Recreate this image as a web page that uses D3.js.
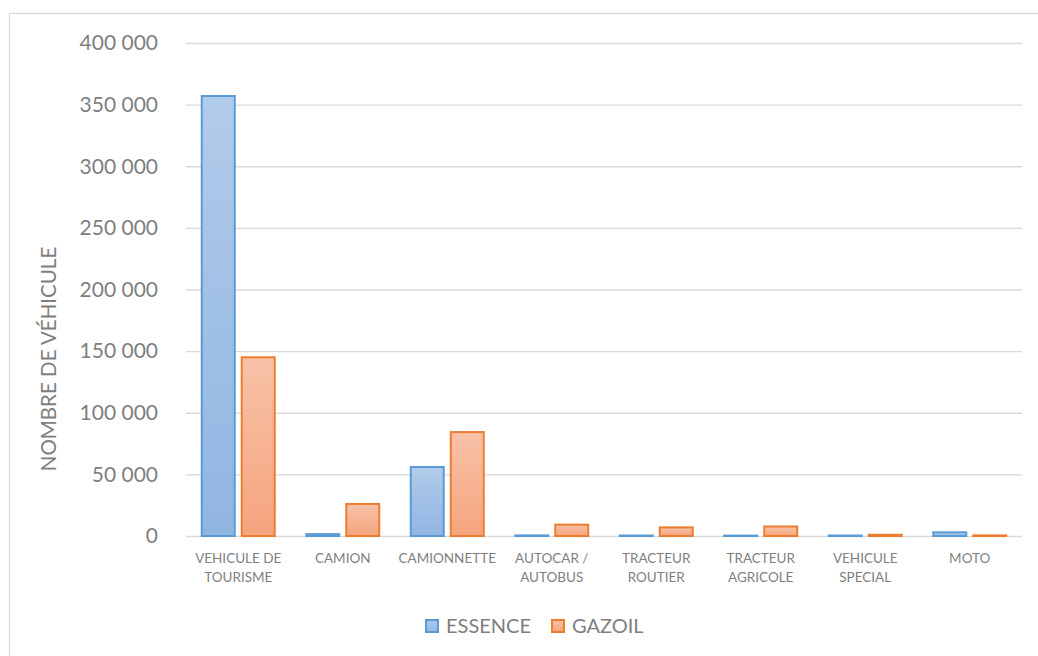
<!DOCTYPE html>
<html>
<head>
<meta charset="utf-8">
<script src="https://cdn.jsdelivr.net/npm/d3@7"></script>
<style>
  body { margin: 0; background: #fff; }
  svg { font-family: Lato, "Open Sans", sans-serif; }
  .grid line { stroke: #d9d9d9; stroke-width: 1.3; }
  .grid path { display: none; }
</style>
</head>
<body>
<div class="svg-container"></div>
<script>
var categories = [
    ["VEHICULE DE", "TOURISME"],
    ["CAMION"],
    ["CAMIONNETTE"],
    ["AUTOCAR /", "AUTOBUS"],
    ["TRACTEUR", "ROUTIER"],
    ["TRACTEUR", "AGRICOLE"],
    ["VEHICULE", "SPECIAL"],
    ["MOTO"]
];
var essence = [357000, 1500, 56000, 500, 400, 300, 400, 3000];
var gazoil = [145000, 26000, 84300, 9200, 7000, 7700, 1000, 500];
var seriesNames = ["ESSENCE", "GAZOIL"];
var yTicks = [0, 50000, 100000, 150000, 200000, 250000, 300000, 350000, 400000];
var yTitle = "NOMBRE DE VÉHICULE";

var width = 1038, height = 656;
var svg = d3.select(".svg-container")
    .append("svg")
    .attr("width", width)
    .attr("height", height);

var margin = { top: 43, right: 16, bottom: 120, left: 186 };
var chartWidth = width - margin.left - margin.right;
var chartHeight = height - margin.top - margin.bottom;

// chart frame
svg.append("rect")
    .attr("x", 9.5).attr("y", 13.5)
    .attr("width", 1040).attr("height", 660)
    .attr("fill", "none").attr("stroke", "#d9d9d9").attr("stroke-width", 1.3);

var defs = svg.append("defs");
function grad(id, top, bottom) {
    var lg = defs.append("linearGradient").attr("id", id)
        .attr("x1", 0).attr("y1", 0).attr("x2", 0).attr("y2", 1);
    lg.append("stop").attr("offset", "0%").attr("stop-color", top);
    lg.append("stop").attr("offset", "100%").attr("stop-color", bottom);
}
grad("gradBlue", "#b1cbea", "#91b5e2");
grad("gradOrange", "#f8c2a8", "#f5a47d");

var colors = [
    { fill: "url(#gradBlue)", stroke: "#5b9bd5" },
    { fill: "url(#gradOrange)", stroke: "#ed7d31" }
];

var g = svg.append("g")
    .attr("transform", `translate(${margin.left}, ${margin.top})`);

var xScale = d3.scaleBand()
    .domain(d3.range(categories.length))
    .range([0, chartWidth])
    .paddingInner(0)
    .paddingOuter(0);

var yScale = d3.scaleLinear()
    .domain([0, 400000])
    .range([chartHeight, 0]);

var fmt = d => d3.format(",")(d).replace(/,/g, " ");

var yGridlines = d3.axisLeft(yScale).tickValues(yTicks).tickSize(-chartWidth).tickFormat("");
g.append("g").attr("class", "grid").call(yGridlines);

// y tick labels
g.selectAll(".ylab").data(yTicks).enter().append("text")
    .attr("class", "ylab")
    .attr("x", -28)
    .attr("y", d => yScale(d))
    .attr("dy", "0.35em")
    .attr("text-anchor", "end")
    .attr("fill", "#7f7f7f")
    .style("font-size", "21px")
    .text(fmt);

var bw = 33, gap = 7;
var series = [essence, gazoil];
series.forEach(function(vals, si) {
    g.selectAll(".bar" + si).data(vals).enter().append("rect")
        .attr("class", "bar" + si)
        .attr("x", (d, i) => xScale(i) + xScale.bandwidth() / 2 + (si === 0 ? -gap / 2 - bw : gap / 2))
        .attr("y", d => yScale(d))
        .attr("width", bw)
        .attr("height", d => chartHeight - yScale(d))
        .attr("fill", colors[si].fill)
        .attr("stroke", colors[si].stroke)
        .attr("stroke-width", 2);
});

// category labels
var cat = g.selectAll(".cat").data(categories).enter().append("text")
    .attr("class", "cat")
    .attr("x", (d, i) => xScale(i) + xScale.bandwidth() / 2)
    .attr("y", chartHeight + 27)
    .attr("text-anchor", "middle")
    .attr("fill", "#7f7f7f")
    .style("font-size", "13.5px");
cat.selectAll("tspan").data(d => d).enter().append("tspan")
    .attr("x", function() { return this.parentNode.getAttribute("x"); })
    .attr("dy", (d, i) => i === 0 ? 0 : 19)
    .text(d => d);

// y title
svg.append("text")
    .attr("transform", "translate(56, 359) rotate(-90)")
    .attr("text-anchor", "middle")
    .attr("fill", "#7f7f7f")
    .style("font-size", "20.5px")
    .text(yTitle);

// legend
var legend = svg.append("g").attr("transform", "translate(426, 626)");
var lx = [0, 126];
seriesNames.forEach(function(name, i) {
    legend.append("rect")
        .attr("x", lx[i]).attr("y", -6)
        .attr("width", 12).attr("height", 12)
        .attr("fill", colors[i].fill)
        .attr("stroke", colors[i].stroke)
        .attr("stroke-width", 2);
    legend.append("text")
        .attr("x", lx[i] + 20).attr("y", 0)
        .attr("dy", "0.35em")
        .attr("fill", "#7f7f7f")
        .style("font-size", "20px")
        .text(name);
});
</script>
</body>
</html>
